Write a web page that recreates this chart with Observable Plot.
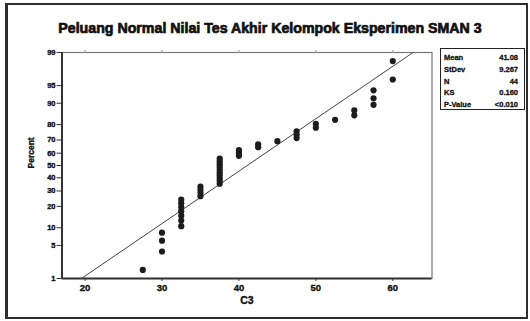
<!DOCTYPE html>
<html>
<head>
<meta charset="utf-8">
<script src="https://cdn.jsdelivr.net/npm/d3@7"></script>
<script src="https://cdn.jsdelivr.net/npm/@observablehq/plot@0.6"></script>
<style>
  html, body { margin: 0; padding: 0; background: #fff; }
  #wrap { position: relative; width: 530px; height: 321px; overflow: hidden; background: #fff;
          font-family: "Liberation Sans", Arial, sans-serif; }
  #chart { position: absolute; left: 0; top: 0; }
  #chart svg text { stroke: #111; stroke-width: 0.35px; }
  #border { position: absolute; left: 5px; top: 3px; width: 523px; height: 316px; box-sizing: border-box;
            border: 2px solid #2e2e2e; border-left-width: 3px; }
  #title { position: absolute; left: 0; width: 540px; top: 20px; text-align: center;
           font-weight: 700; font-size: 14.2px; color: #111; white-space: nowrap;
           -webkit-text-stroke: 0.7px #111; }
  #stats { position: absolute; left: 440px; top: 48px; width: 85px; height: 62px; box-sizing: border-box;
           border: 1.5px solid #222; padding: 3px 6px 0 3px; }
  #stats .row { display: flex; justify-content: space-between; font-size: 7.5px; font-weight: 700;
                color: #111; height: 11.8px; line-height: 11.8px; -webkit-text-stroke: 0.3px #111; }
</style>
</head>
<body>
<div id="wrap">
  <div id="chart"></div>
  <div id="title"></div>
  <div id="stats"></div>
  <div id="border"></div>
</div>
<script>
// ---- data ----
const titleText = "Peluang Normal Nilai Tes Akhir Kelompok Eksperimen SMAN 3";
const xLabel = "C3";
const yLabel = "Percent";
const scores = [27.5, 30, 32.5, 35, 37.5, 40, 42.5, 45, 47.5, 50, 52.5, 55, 57.5, 60];
const counts = [1, 3, 7, 4, 10, 3, 2, 1, 3, 2, 1, 2, 3, 2];
const percentTicks = [1, 5, 10, 20, 30, 40, 50, 60, 70, 80, 90, 95, 99];
const xTicks = [20, 30, 40, 50, 60];
const statLabels = ["Mean", "StDev", "N", "KS", "P-Value"];
const statValues = ["41.08", "9.267", "44", "0.160", "<0.010"];
const mean = 41.08;
const stdev = 9.267;

// inverse normal CDF (Acklam)
function probit(p) {
  const a=[-3.969683028665376e+01,2.209460984245205e+02,-2.759285104469687e+02,1.383577518672690e+02,-3.066479806614716e+01,2.506628277459239e+00];
  const b=[-5.447609879822406e+01,1.615858368580409e+02,-1.556989798598866e+02,6.680131188771972e+01,-1.328068155288572e+01];
  const c=[-7.784894002430293e-03,-3.223964580411365e-01,-2.400758277161838e+00,-2.549732539343734e+00,4.374664141464968e+00,2.938163982698783e+00];
  const d=[7.784695709041462e-03,3.224671290700398e-01,2.445134137142996e+00,3.754408661907416e+00];
  const pl = 0.02425, ph = 1 - pl;
  let q, r;
  if (p < pl) { q = Math.sqrt(-2*Math.log(p)); return (((((c[0]*q+c[1])*q+c[2])*q+c[3])*q+c[4])*q+c[5])/((((d[0]*q+d[1])*q+d[2])*q+d[3])*q+1); }
  if (p <= ph) { q = p - 0.5; r = q*q; return (((((a[0]*r+a[1])*r+a[2])*r+a[3])*r+a[4])*r+a[5])*q/(((((b[0]*r+b[1])*r+b[2])*r+b[3])*r+b[4])*r+1); }
  q = Math.sqrt(-2*Math.log(1-p)); return -(((((c[0]*q+c[1])*q+c[2])*q+c[3])*q+c[4])*q+c[5])/((((d[0]*q+d[1])*q+d[2])*q+d[3])*q+1);
}

// expand the sample and compute Minitab median-rank plotting positions
const sample = scores.flatMap((s, k) => Array(counts[k]).fill(s));
const n = sample.length;
const points = sample.map((s, i) => ({ x: s, z: probit((i + 1 - 0.3) / (n + 0.4)) }));
const fitLine = [0.01, 0.99].map(p => ({ x: mean + probit(p) * stdev, z: probit(p) }));

const tickZ = percentTicks.map(p => probit(p / 100));
const tickLabel = new Map(tickZ.map((z, i) => [z, String(percentTicks[i])]));

const chart = Plot.plot({
  width: 530,
  height: 321,
  marginLeft: 61.5,
  marginRight: 98.5,
  marginTop: 52,
  marginBottom: 43,
  style: { fontFamily: "Liberation Sans, Arial, sans-serif", background: "transparent" },
  x: { domain: [17, 65.1] },
  y: { domain: [probit(0.01), probit(0.99)] },
  marks: [
    Plot.frame({ stroke: "#777", strokeWidth: 1.2 }),
    Plot.axisX(xTicks, { anchor: "top", tickSize: 3, stroke: "#999", text: null, label: null }),
    Plot.axisX(xTicks, { anchor: "bottom", tickSize: 3, tickPadding: 3, fontSize: 9.5, fontWeight: "bold",
                         fill: "#111", stroke: "#444", label: null }),
    Plot.axisY(tickZ, { anchor: "left", tickSize: 5, tickPadding: 1.5, fontSize: 7.5, fontWeight: "bold",
                        fill: "#111", stroke: "#333", tickFormat: z => tickLabel.get(z), label: null }),
    Plot.ruleX([17], { stroke: "#333", strokeWidth: 2 }),
    Plot.ruleY([probit(0.01)], { stroke: "#333", strokeWidth: 2 }),
    Plot.line(fitLine, { x: "x", y: "z", stroke: "#444", strokeWidth: 1 }),
    Plot.dot(points, { x: "x", y: "z", r: 3.1, fill: "#1c1c1c", stroke: "none" }),
    Plot.text([xLabel], { frameAnchor: "bottom", dy: 25, fontSize: 10.5, fontWeight: "bold", fill: "#111" }),
    Plot.text([yLabel], { frameAnchor: "left", dx: -31, dy: 3, rotate: -90, fontSize: 8.5, fontWeight: "bold", fill: "#111" })
  ]
});
document.getElementById("chart").appendChild(chart);

document.getElementById("title").textContent = titleText;
const stats = document.getElementById("stats");
statLabels.forEach((lab, i) => {
  const row = document.createElement("div");
  row.className = "row";
  const a = document.createElement("span"); a.textContent = lab;
  const b = document.createElement("span"); b.textContent = statValues[i];
  row.appendChild(a); row.appendChild(b);
  stats.appendChild(row);
});
</script>
</body>
</html>
